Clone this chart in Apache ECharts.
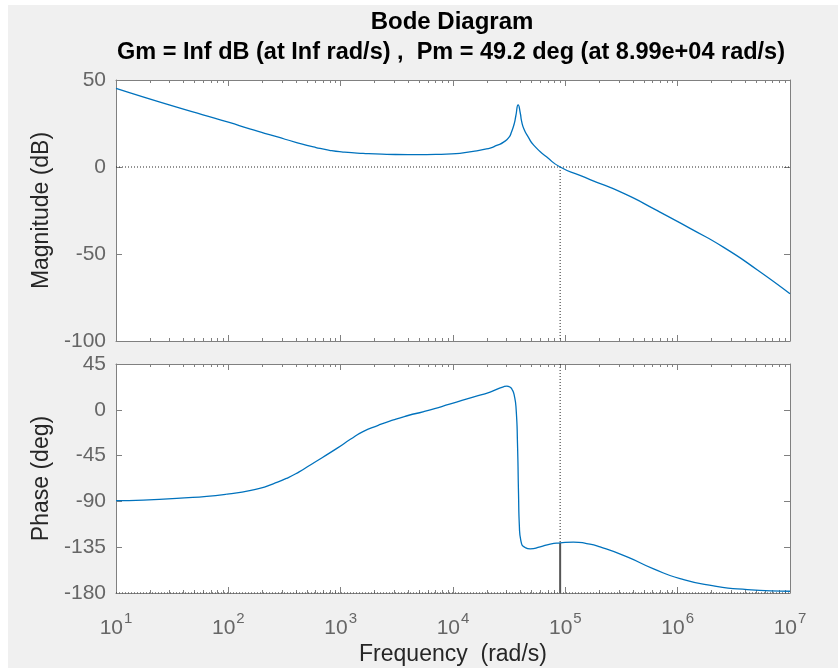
<!DOCTYPE html>
<html>
<head>
<meta charset="utf-8">
<script src="https://cdn.jsdelivr.net/npm/echarts@6/dist/echarts.min.js"></script>
<style>html,body{margin:0;padding:0;background:#fff}#c{width:838px;height:668px}</style>
</head>
<body>
<div id="c"></div>
<script>
// ---------- data ----------
const titleMain = 'Bode Diagram';
const titleSub = 'Gm = Inf dB (at Inf rad/s) ,  Pm = 49.2 deg (at 8.99e+04 rad/s)';

const magFreq = [10, 34.7, 100, 155, 269, 398, 603, 794, 1050, 1585, 2570, 4470, 8710, 15100, 21400, 24500, 28200, 31600, 33100, 35100, 36300, 38000, 39800, 40700, 42700, 46800, 52500, 68400, 89900, 135000, 166000, 331000, 646000, 1290000, 2570000, 5130000, 10000000];
const magDb   = [45.2, 34.4, 25.8, 21.9, 17.4, 14.2, 11.2, 9.6, 8.6, 7.8, 7.3, 7.1, 7.4, 9.0, 10.9, 12.4, 14.3, 17.2, 20.0, 24.9, 29.6, 35.7, 30.6, 26.7, 22.0, 17.2, 12.4, 5.7, 0.0, -4.8, -7.2, -15.2, -24.8, -35.3, -46.2, -59.2, -72.9];

const phaseFreq = [10, 34.7, 98, 190, 251, 331, 427, 537, 933, 1220, 1580, 2160, 2950, 3980, 5500, 9330, 15100, 21400, 28100, 30200, 32400, 33400, 35000, 36500, 37500, 38300, 39000, 40400, 43900, 48600, 59700, 73300, 89900, 118000, 155000, 204000, 355000, 603000, 1050000, 2090000, 4170000, 10000000];
const phaseDeg  = [-89.3, -87.0, -82.8, -77.2, -72.7, -67.3, -61.0, -54.2, -37.7, -29.0, -21.4, -15.2, -9.9, -5.6, -1.7, 5.5, 12.5, 17.4, 22.6, 23.2, 22.0, 20.4, 14.8, 0.0, -32.8, -82.0, -115.0, -129.7, -135.3, -136.6, -134.6, -132.0, -130.8, -130.0, -131.4, -134.7, -144.5, -156.0, -165.8, -173.0, -176.6, -178.3];

const freqTicks = [10, 100, 1000, 10000, 100000, 1000000, 10000000];
const freqTickExp = ['1', '2', '3', '4', '5', '6', '7'];
const magTicks = [-100, -50, 0, 50];
const phaseTicks = [-180, -135, -90, -45, 0, 45];

const pmFreq = 8.99e4;     // phase-margin crossover frequency
const pmPhase = -130.8;    // -180 + 49.2
const magRef = 0;          // 0 dB reference
const phaseRef = -180;     // -180 deg reference

// ---------- helpers ----------
const zip = (a, b) => a.map((v, i) => [v, b[i]]);
const minorTicks = [];
for (let i = 0; i < freqTicks.length - 1; i++) {
  for (let k = 2; k <= 9; k++) minorTicks.push(freqTicks[i] * k);
}
const FONT = 'Liberation Sans, Arial, Helvetica, sans-serif';
const AX = '#808080';
const LBL = '#666666';
const fMin = freqTicks[0], fMax = freqTicks[freqTicks.length - 1];

function xAx(grid, pos, minor, labels) {
  const a = {
    type: 'log', logBase: 10, gridIndex: grid, position: pos, min: fMin, max: fMax,
    axisLine: { show: !minor, onZero: false, lineStyle: { color: AX, width: 1 } },
    axisTick: { show: true, inside: true, length: minor ? 3 : 6, customValues: minor ? minorTicks : freqTicks, lineStyle: { color: AX } },
    axisLabel: { show: false },
    splitLine: { show: false }, minorTick: { show: false }, minorSplitLine: { show: false }
  };
  if (labels) {
    a.axisLabel = {
      show: true, customValues: freqTicks, margin: 18,
      formatter: function (v) {
        const i = freqTicks.findIndex(t => Math.abs(Math.log10(t) - Math.log10(v)) < 1e-6);
        return '{b|10}{s|' + (i >= 0 ? freqTickExp[i] : '') + '}';
      },
      rich: {
        b: { fontSize: 21, color: LBL, fontFamily: FONT, lineHeight: 28, verticalAlign: 'bottom' },
        s: { fontSize: 15, color: LBL, fontFamily: FONT, verticalAlign: 'top', lineHeight: 28, padding: [0, 0, 0, 1] }
      }
    };
    a.name = 'Frequency  (rad/s)';
    a.nameLocation = 'middle';
    a.nameGap = 50;
    a.nameTextStyle = { fontSize: 23, color: '#262626', fontFamily: FONT };
  }
  return a;
}
function yAx(grid, pos, min, max, interval, name) {
  const a = {
    type: 'value', gridIndex: grid, position: pos, min: min, max: max, interval: interval,
    axisLine: { show: true, onZero: false, lineStyle: { color: AX, width: 1 } },
    axisTick: { show: true, inside: true, length: 6, lineStyle: { color: AX } },
    axisLabel: { show: !!name, fontSize: 21, color: LBL, fontFamily: FONT, margin: 10 },
    splitLine: { show: false }
  };
  if (name) {
    a.name = name; a.nameLocation = 'middle'; a.nameGap = 56;
    a.nameTextStyle = { fontSize: 23, color: '#262626', fontFamily: FONT };
  }
  return a;
}
const refStyle = { color: '#262626', width: 1, type: [1, 2] };
function lineSeries(data, xi, yi, style, z) {
  return { type: 'line', xAxisIndex: xi, yAxisIndex: yi, data: data, showSymbol: false, symbol: 'none',
           lineStyle: style, z: z || 2, silent: true, animation: false };
}

const chart = echarts.init(document.getElementById('c'), null, { renderer: 'canvas' });
chart.setOption({
  animation: false,
  backgroundColor: '#f0f0f0',
  graphic: [
    { type: 'rect', left: 0, top: 0, shape: { width: 8, height: 668 }, style: { fill: '#ffffff' }, silent: true },
    { type: 'rect', left: 0, top: 0, shape: { width: 838, height: 5 }, style: { fill: '#ffffff' }, silent: true }
  ],
  title: [
    { text: titleMain, left: 447, top: 5, textAlign: 'center', textStyle: { fontSize: 24, fontWeight: 'bold', color: '#000', fontFamily: FONT } },
    { text: titleSub, left: 446, top: 36, textAlign: 'center', textStyle: { fontSize: 23.5, fontWeight: 'bold', color: '#000', fontFamily: FONT } }
  ],
  grid: [
    { left: 116, top: 80, width: 674, height: 261, show: true, backgroundColor: '#ffffff', borderWidth: 0 },
    { left: 116, top: 364, width: 674, height: 229, show: true, backgroundColor: '#ffffff', borderWidth: 0 }
  ],
  xAxis: [
    xAx(0, 'bottom', false, false), xAx(0, 'top', false, false), xAx(0, 'bottom', true, false), xAx(0, 'top', true, false),
    xAx(1, 'bottom', false, true), xAx(1, 'top', false, false), xAx(1, 'bottom', true, false), xAx(1, 'top', true, false)
  ],
  yAxis: [
    yAx(0, 'left', magTicks[0], magTicks[magTicks.length - 1], 50, 'Magnitude (dB)'),
    yAx(0, 'right', magTicks[0], magTicks[magTicks.length - 1], 50, null),
    yAx(1, 'left', phaseTicks[0], phaseTicks[phaseTicks.length - 1], 45, 'Phase (deg)'),
    yAx(1, 'right', phaseTicks[0], phaseTicks[phaseTicks.length - 1], 45, null)
  ],
  series: [
    lineSeries([[fMin, magRef], [fMax, magRef]], 0, 0, refStyle, 1),
    lineSeries([[pmFreq, magRef], [pmFreq, magTicks[0]]], 0, 0, refStyle, 1),
    Object.assign(lineSeries(zip(magFreq, magDb), 0, 0, { color: '#0072BD', width: 1.3 }, 3), { smooth: 0.6 }),
    lineSeries([[fMin, phaseRef], [fMax, phaseRef]], 4, 2, refStyle, 1),
    lineSeries([[pmFreq, phaseTicks[phaseTicks.length - 1]], [pmFreq, pmPhase]], 4, 2, refStyle, 1),
    lineSeries([[pmFreq, pmPhase], [pmFreq, phaseRef]], 4, 2, { color: '#555555', width: 2 }, 1),
    Object.assign(lineSeries(zip(phaseFreq, phaseDeg), 4, 2, { color: '#0072BD', width: 1.3 }, 3), { smooth: 0.6 })
  ]
});
</script>
</body>
</html>
